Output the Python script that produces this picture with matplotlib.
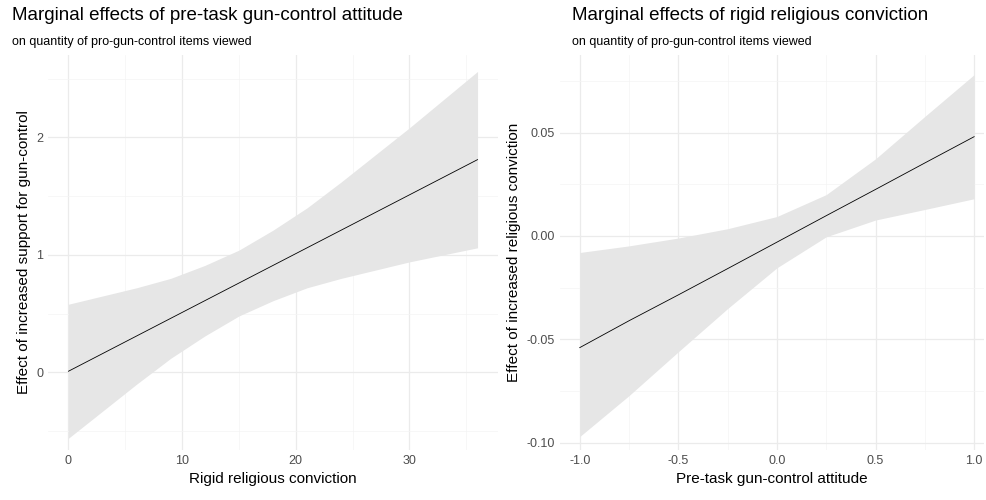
import matplotlib.pyplot as plt

# left panel: marginal effect of attitude over conviction
conv_x = [0, 3, 6, 9, 12, 15, 18, 21, 24, 27, 30, 33, 36]
conv_fit = [0.01, 0.16, 0.31, 0.46, 0.61, 0.76, 0.91, 1.06, 1.21, 1.36, 1.51, 1.66, 1.81]
conv_lo = [-0.56, -0.33, -0.10, 0.12, 0.31, 0.48, 0.61, 0.72, 0.80, 0.87, 0.94, 1.00, 1.06]
conv_hi = [0.58, 0.65, 0.72, 0.80, 0.91, 1.04, 1.21, 1.40, 1.62, 1.85, 2.08, 2.32, 2.56]

# right panel: marginal effect of conviction over attitude
att_x = [-1.0, -0.75, -0.5, -0.25, 0.0, 0.25, 0.5, 0.75, 1.0]
att_fit = [-0.054, -0.041, -0.0285, -0.0158, -0.003, 0.0098, 0.0225, 0.0353, 0.048]
att_lo = [-0.097, -0.0772, -0.056, -0.0351, -0.0154, -0.0004, 0.0077, 0.0128, 0.018]
att_hi = [-0.008, -0.0048, -0.001, 0.0035, 0.0094, 0.0200, 0.0373, 0.0578, 0.078]

plt.rcParams["font.family"] = ["Liberation Sans", "DejaVu Sans"]

fig = plt.figure(figsize=(9.86, 5), dpi=100)
ax1 = fig.add_axes([48 / 986, 50 / 500, 450 / 986, 395 / 500])
ax2 = fig.add_axes([560 / 986, 50 / 500, 424 / 986, 395 / 500])


def style(ax):
    ax.set_facecolor("white")
    for s in ax.spines.values():
        s.set_visible(False)
    ax.grid(True, which="major", color="#ebebeb", linewidth=0.9)
    ax.grid(True, which="minor", color="#f4f4f4", linewidth=0.5)
    ax.tick_params(which="both", length=0, colors="#4d4d4d", labelsize=9)
    ax.set_axisbelow(True)


style(ax1)
ax1.fill_between(conv_x, conv_lo, conv_hi, color="#e6e6e6", linewidth=0)
ax1.plot(conv_x, conv_fit, color="black", linewidth=0.6)
ax1.set_xlim(-1.8, 37.8)
ax1.set_ylim(-0.66, 2.7)
ax1.set_xticks([0, 10, 20, 30])
ax1.set_xticks([5, 15, 25, 35], minor=True)
ax1.set_yticks([0, 1, 2])
ax1.set_yticks([-0.5, 0.5, 1.5, 2.5], minor=True)
ax1.set_xlabel("Rigid religious conviction", fontsize=11)
ax1.set_ylabel("Effect of increased support for gun-control", fontsize=11)

style(ax2)
ax2.fill_between(att_x, att_lo, att_hi, color="#e6e6e6", linewidth=0)
ax2.plot(att_x, att_fit, color="black", linewidth=0.6)
ax2.set_xlim(-1.1, 1.05)
ax2.set_ylim(-0.1035, 0.0875)
ax2.set_xticks([-1.0, -0.5, 0.0, 0.5, 1.0])
ax2.set_xticklabels(["-1.0", "-0.5", "0.0", "0.5", "1.0"])
ax2.set_xticks([-0.75, -0.25, 0.25, 0.75], minor=True)
ax2.set_yticks([-0.10, -0.05, 0.00, 0.05])
ax2.set_yticklabels(["-0.10", "-0.05", "0.00", "0.05"])
ax2.set_yticks([-0.075, -0.025, 0.025, 0.075], minor=True)
ax2.set_xlabel("Pre-task gun-control attitude", fontsize=11)
ax2.set_ylabel("Effect of increased religious conviction", fontsize=11)

fig.text(12 / 986, 1 - 16 / 500, "Marginal effects of pre-task gun-control attitude",
         fontsize=13.5, va="center")
fig.text(12 / 986, 1 - 42 / 500, "on quantity of pro-gun-control items viewed",
         fontsize=9, va="center")
fig.text(572 / 986, 1 - 16 / 500, "Marginal effects of rigid religious conviction",
         fontsize=13.5, va="center")
fig.text(572 / 986, 1 - 42 / 500, "on quantity of pro-gun-control items viewed",
         fontsize=9, va="center")

fig.savefig("out.png", dpi=100, facecolor="white")
